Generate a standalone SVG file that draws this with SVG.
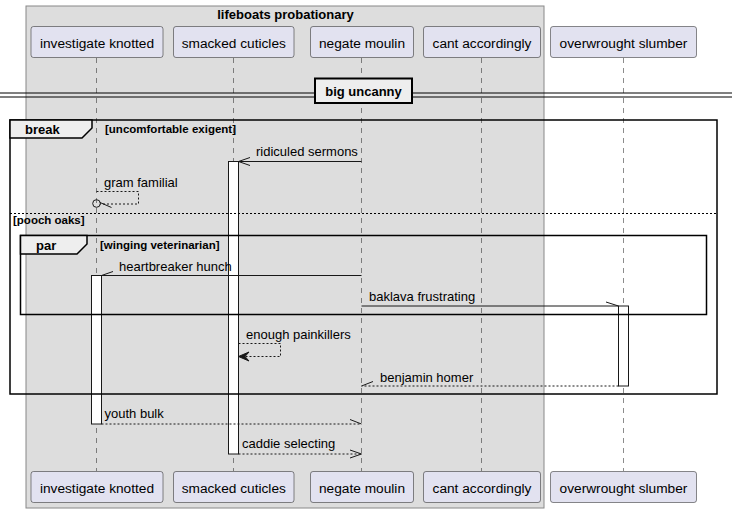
<svg xmlns="http://www.w3.org/2000/svg" width="732" height="513" viewBox="0 0 732 513">
<defs>
<style>
.part{fill:#E2E2F0;stroke:#181818;stroke-width:0.5}
.ptxt{font-family:"Liberation Sans",Arial,sans-serif;font-size:13.7px;fill:#000;text-anchor:middle}
.life{stroke:#181818;stroke-width:0.5;stroke-dasharray:5,5;fill:none}
.act{fill:#FFFFFF;stroke:#181818;stroke-width:1}
.msg{stroke:#181818;stroke-width:1;fill:none}
.dash{stroke-dasharray:2,2}
.mtxt{font-family:"Liberation Sans",Arial,sans-serif;font-size:13px;fill:#000}
.btxt{font-family:"Liberation Sans",Arial,sans-serif;font-size:11.5px;font-weight:bold;fill:#000}
.big{font-size:13px}
.frame{fill:none;stroke:#000;stroke-width:1.5}
.tab{fill:#EEEEEE;stroke:#000;stroke-width:1.5}
</style>
</defs>
<rect width="732" height="513" fill="#FFFFFF"/>
<g id="box-lifeboats">
<rect x="26" y="6" width="518" height="502" fill="#DDDDDD" stroke="#888888" stroke-width="1"/>
<text x="285.5" y="18.5" class="btxt big" text-anchor="middle">lifeboats probationary</text>
</g>
<g id="lifelines">
<line x1="96.5" y1="58" x2="96.5" y2="471" class="life"/>
<line x1="233.5" y1="58" x2="233.5" y2="471" class="life"/>
<line x1="361.5" y1="58" x2="361.5" y2="471" class="life"/>
<line x1="481.5" y1="58" x2="481.5" y2="471" class="life"/>
<line x1="623.5" y1="58" x2="623.5" y2="471" class="life"/>
</g>
<g id="divider">
<line x1="0" y1="93" x2="732" y2="93" stroke="#000" stroke-width="1"/>
<line x1="0" y1="97" x2="732" y2="97" stroke="#000" stroke-width="1"/>
<rect x="315" y="78.5" width="97" height="24.5" fill="#EEEEEE" stroke="#000" stroke-width="2"/>
<text x="363.5" y="96" class="btxt big" text-anchor="middle">big uncanny</text>
</g>
<g id="activations">
<rect x="228.5" y="161.5" width="10" height="292.5" class="act"/>
<rect x="91.5" y="275.5" width="10" height="148.5" class="act"/>
<rect x="618.5" y="306" width="10" height="80" class="act"/>
</g>
<g id="frames">
<rect x="10" y="120" width="707" height="274" class="frame"/>
<path d="M10,120 H92 V128 L82,138 H10 Z" class="tab"/>
<text x="25" y="133.5" class="btxt big">break</text>
<text x="105" y="133" class="btxt">[uncomfortable exigent]</text>
<line x1="10" y1="213.5" x2="717" y2="213.5" stroke="#000" stroke-width="1" stroke-dasharray="2,2"/>
<text x="13" y="224" class="btxt">[pooch oaks]</text>
<rect x="20.5" y="235.5" width="686" height="79" class="frame"/>
<path d="M20.5,235.5 H87 V244 L77,254 H20.5 Z" class="tab"/>
<text x="36" y="250" class="btxt big">par</text>
<text x="100" y="249" class="btxt">[winging veterinarian]</text>
</g>
<g id="connectors">
<line x1="361.5" y1="161.5" x2="238.5" y2="161.5" class="msg"/>
<polyline points="250,157.5 238.5,161.5 250,165.5" class="msg"/>
<text x="256" y="156" class="mtxt">ridiculed sermons</text>

<polyline points="96.5,191.5 138.5,191.5 138.5,204 100,204" class="msg dash"/>
<circle cx="96.5" cy="203.5" r="3.8" fill="none" stroke="#181818" stroke-width="1"/>
<line x1="100" y1="202.5" x2="111.5" y2="207.5" class="msg"/>
<text x="104" y="187" class="mtxt">gram familial</text>

<line x1="361.5" y1="275.5" x2="101.5" y2="275.5" class="msg"/>
<line x1="101.5" y1="275.5" x2="113" y2="271.5" class="msg"/>
<text x="119" y="271" class="mtxt">heartbreaker hunch</text>

<line x1="361.5" y1="306" x2="618.5" y2="306" class="msg"/>
<line x1="618.5" y1="306" x2="606" y2="302" class="msg"/>
<text x="369" y="301" class="mtxt">baklava frustrating</text>

<polyline points="238.5,343.5 280.5,343.5 280.5,356.5 240,356.5" class="msg dash"/>
<path d="M238.5,356.5 L249,352 L245,356.5 L249,361 Z" fill="#181818" stroke="#181818" stroke-width="1"/>
<text x="246" y="339" class="mtxt">enough painkillers</text>

<line x1="618.5" y1="386" x2="361.5" y2="386" class="msg dash"/>
<line x1="361.5" y1="386" x2="373" y2="381.5" class="msg"/>
<text x="380" y="382" class="mtxt">benjamin homer</text>

<line x1="101.5" y1="424" x2="361.5" y2="424" class="msg dash"/>
<line x1="361.5" y1="424" x2="350" y2="419.5" class="msg"/>
<text x="104.5" y="418" class="mtxt">youth bulk</text>

<line x1="238.5" y1="454" x2="361.5" y2="454" class="msg dash"/>
<polyline points="350,450 361.5,454 350,458" class="msg"/>
<text x="242" y="448" class="mtxt">caddie selecting</text>
</g>
<g id="p-investigate">
<rect x="31" y="26.5" width="132" height="31" rx="2.5" class="part"/>
<text x="97" y="47.5" class="ptxt">investigate knotted</text>
<rect x="31" y="471.5" width="132" height="31" rx="2.5" class="part"/>
<text x="97" y="492.5" class="ptxt">investigate knotted</text>
</g>
<g id="p-smacked">
<rect x="173.5" y="26.5" width="120.5" height="31" rx="2.5" class="part"/>
<text x="233.75" y="47.5" class="ptxt">smacked cuticles</text>
<rect x="173.5" y="471.5" width="120.5" height="31" rx="2.5" class="part"/>
<text x="233.75" y="492.5" class="ptxt">smacked cuticles</text>
</g>
<g id="p-negate">
<rect x="310.5" y="26.5" width="103" height="31" rx="2.5" class="part"/>
<text x="362" y="47.5" class="ptxt">negate moulin</text>
<rect x="310.5" y="471.5" width="103" height="31" rx="2.5" class="part"/>
<text x="362" y="492.5" class="ptxt">negate moulin</text>
</g>
<g id="p-cant">
<rect x="423.5" y="26.5" width="117" height="31" rx="2.5" class="part"/>
<text x="482" y="47.5" class="ptxt">cant accordingly</text>
<rect x="423.5" y="471.5" width="117" height="31" rx="2.5" class="part"/>
<text x="482" y="492.5" class="ptxt">cant accordingly</text>
</g>
<g id="p-overwrought">
<rect x="550.5" y="26.5" width="146" height="31" rx="2.5" class="part"/>
<text x="623.5" y="47.5" class="ptxt">overwrought slumber</text>
<rect x="550.5" y="471.5" width="146" height="31" rx="2.5" class="part"/>
<text x="623.5" y="492.5" class="ptxt">overwrought slumber</text>
</g>
</svg>
